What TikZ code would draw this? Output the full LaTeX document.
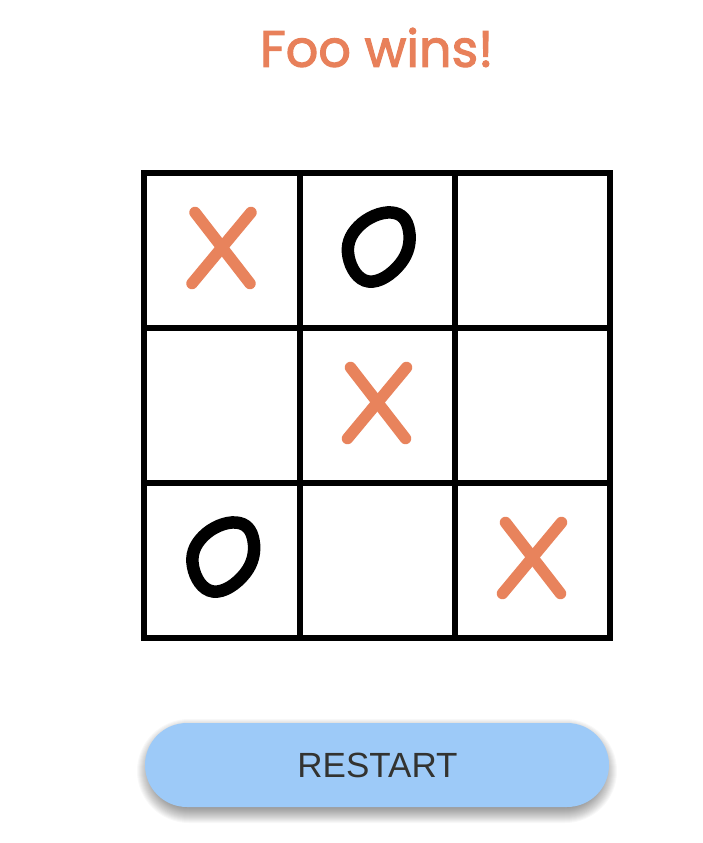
\documentclass[tikz,border=0pt]{standalone}
\usepackage{fontspec}
\newfontfamily\poppins{Poppins}[FakeBold=2.2]
\newfontfamily\arialfont{Liberation Sans}
\definecolor{titleorange}{HTML}{E8805A}
\definecolor{xorange}{HTML}{E8835C}
\definecolor{btnblue}{HTML}{9DCAF8}
\definecolor{btntext}{HTML}{333330}
\tikzset{
  gridline/.style={line width=6pt, black},
  xstroke/.style={line width=11.5pt, xorange, line cap=round},
  ostroke/.style={line width=12.5pt, black},
  xmark/.pic={\draw[xstroke] (-27,-38) -- (28,33); \draw[xstroke] (29,-38) -- (-30,33);},
  omark/.pic={\draw[ostroke] plot[smooth cycle, tension=0.75] coordinates {(14,-38) (31.5,-20) (23,13) (-9,31) (-29,6) (-19,-24)};},
  btn/.style={fill=btnblue, rounded corners=42pt},
  shadowlayer/.style={fill=black, fill opacity=0.026},
}
\begin{document}
\begin{tikzpicture}[x=1pt,y=-1pt]
\useasboundingbox[fill=white] (0,0) rectangle (703,843);
% title
\node[anchor=base, text=titleorange, inner sep=0pt, font=\poppins\fontsize{51}{60}\selectfont] (title) at (376.7,66.7) {Foo wins!};
% grid
\draw[gridline] (144,173) rectangle (610,638);
\draw[gridline] (300,173) -- (300,638);
\draw[gridline] (455,173) -- (455,638);
\draw[gridline] (144,328) -- (610,328);
\draw[gridline] (144,483) -- (610,483);
% marks
\pic at (222,250.5) {xmark};
\pic at (377.5,250.5) {omark};
\pic at (377.5,405.5) {xmark};
\pic at (222,560.5) {omark};
\pic at (532.5,560.5) {xmark};
% button shadow
\foreach \k in {0,...,24}{
  \pgfmathsetmacro\e{12-\k}
  \pgfmathsetmacro\rr{max(0,40+\e)}
  \path[shadowlayer, rounded corners=\rr pt] (149-\e,731-\e) rectangle (605+\e,811+\e);
}
% button
\path[btn] (145,723) rectangle (609,807);
\node[text=btntext, inner sep=0pt, font=\arialfont\fontsize{35}{42}\selectfont] (restart) at (377.5,765) {RESTART};
\end{tikzpicture}
\end{document}
